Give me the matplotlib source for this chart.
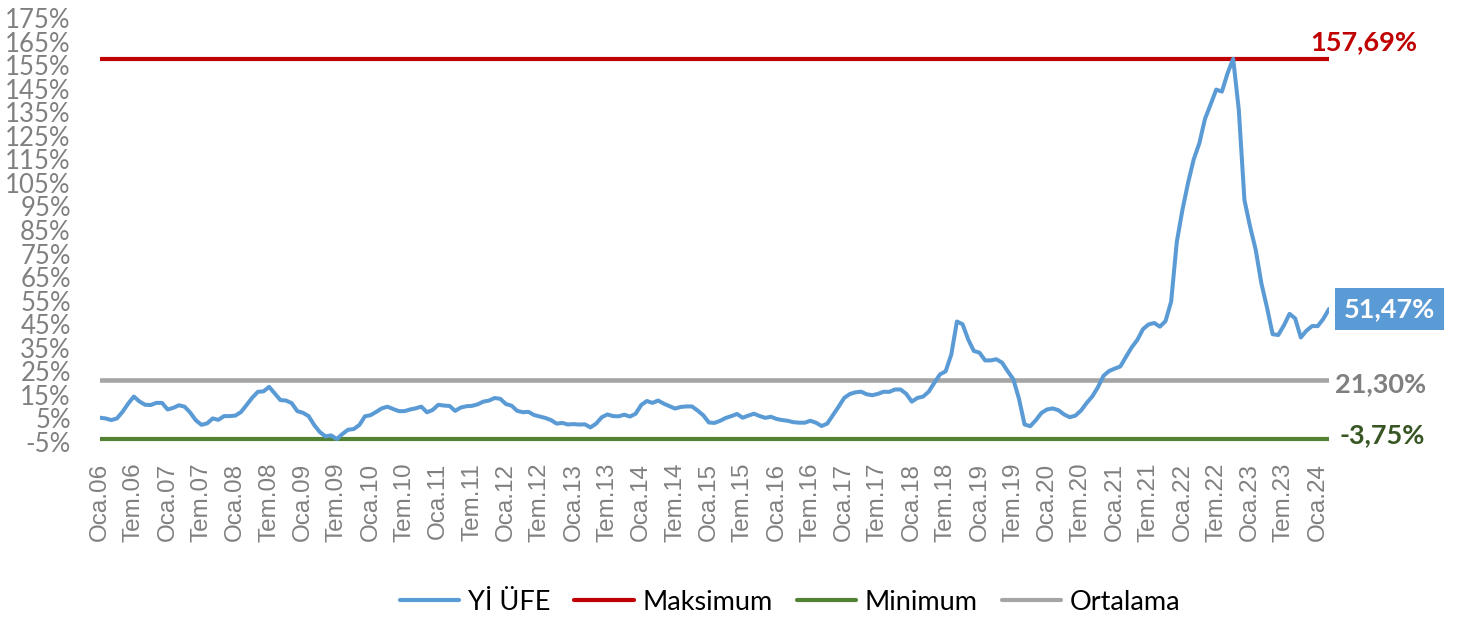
import matplotlib
matplotlib.use("Agg")
import matplotlib.pyplot as plt
import numpy as np

# ---- data (annual Yİ-ÜFE change, %, monthly Jan 2006 - Mar 2024) ----
y2006 = [5.3, 5.0, 4.3, 5.0, 7.8, 11.3, 14.3, 12.2, 10.8, 10.7, 11.6, 11.6]
y2007 = [8.8, 9.5, 10.6, 10.0, 7.5, 4.2, 2.3, 2.9, 5.0, 4.4, 6.0, 6.0]
y2008 = [6.2, 7.7, 10.7, 13.8, 16.3, 16.5, 18.4, 15.6, 12.8, 12.6, 11.5, 8.1]
y2009 = [7.4, 6.0, 2.2, -0.8, -2.6, -2.2, -3.75, -1.6, 0.2, 0.5, 2.2, 5.9]
y2010 = [6.4, 7.8, 9.3, 10.0, 9.0, 8.1, 8.1, 8.8, 9.3, 10.0, 7.6, 8.6]
y2011 = [10.80, 10.47, 10.31, 8.21, 9.63, 10.19, 10.35, 11.00, 12.15, 12.58, 13.67, 13.33]
y2012 = [11.13, 10.43, 8.22, 7.65, 7.8, 6.44, 5.8, 5.2, 4.3, 2.8, 3.1, 2.45]
y2013 = [2.6, 2.4, 2.5, 1.2, 2.8, 5.5, 6.7, 6.0, 5.9, 6.6, 5.8, 6.97]
y2014 = [10.72, 12.40, 11.6, 12.6, 11.28, 10.25, 9.2, 9.88, 10.10, 10.10, 8.36, 6.36]
y2015 = [3.28, 3.10, 4.0, 5.21, 6.0, 6.9, 5.3, 6.21, 7.0, 6.03, 5.25, 5.71]
y2016 = [4.8, 4.3, 4.0, 3.4, 3.2, 3.2, 4.0, 3.2, 1.78, 2.82, 6.41, 9.94]
y2017 = [13.69, 15.36, 16.09, 16.37, 15.26, 14.87, 15.45, 16.34, 16.28, 17.28, 17.30, 15.47]
y2018 = [12.14, 13.71, 14.28, 16.37, 20.16, 23.71, 25.00, 32.13, 46.15, 45.01, 38.54, 33.64]
y2019 = [32.93, 29.64, 29.64, 30.12, 28.71, 25.04, 21.66, 13.45, 2.45, 1.70, 4.26, 7.36]
y2020 = [8.84, 9.26, 8.50, 6.71, 5.53, 6.17, 8.33, 11.53, 14.33, 18.20, 23.11, 25.15]
y2021 = [26.16, 27.09, 31.20, 35.17, 38.33, 42.89, 44.92, 45.52, 43.96, 46.31, 54.62, 79.89]
y2022 = [93.53, 105.01, 114.97, 121.82, 132.16, 138.31, 144.61, 143.75, 151.50, 157.69, 136.02, 97.72]
y2023 = [86.46, 76.61, 62.43, 52.11, 40.76, 40.42, 44.50, 49.41, 47.44, 39.39, 42.25, 44.22]
y2024 = [44.20, 47.29, 51.47]

yi_ufe = (y2006 + y2007 + y2008 + y2009 + y2010 + y2011 + y2012 + y2013 + y2014
          + y2015 + y2016 + y2017 + y2018 + y2019 + y2020 + y2021 + y2022 + y2023 + y2024)

maks_value = 157.69
min_value = -3.75
ort_value = 21.30

years = list(range(2006, 2025))
tick_labels = []
for yr in years:
    tick_labels.append(f"Oca.{yr % 100:02d}")
    if yr < 2024:
        tick_labels.append(f"Tem.{yr % 100:02d}")

series_names = ["Yİ ÜFE", "Maksimum", "Minimum", "Ortalama"]
label_max = "157,69%"
label_last = "51,47%"
label_ort = "21,30%"
label_min = "-3,75%"

y_ticks = list(range(-5, 176, 10))

# ---- figure ----
W, H = 1468, 619
fig = plt.figure(figsize=(W / 100, H / 100), dpi=100)
ax = fig.add_axes([100 / W, 1 - 442 / H, (1329 - 100) / W, (442 - 18) / H])

n = len(yi_ufe)
x = np.arange(n)
blue = "#5B9BD5"
red = "#C00000"
green = "#548235"
grey = "#A5A5A5"

l_max, = ax.plot(x, [maks_value] * n, color=red, lw=3.0, solid_capstyle="round")
l_min, = ax.plot(x, [min_value] * n, color=green, lw=3.0, solid_capstyle="round")
l_ort, = ax.plot(x, [ort_value] * n, color=grey, lw=3.3, solid_capstyle="round")
l_yi, = ax.plot(x, yi_ufe, color=blue, lw=2.9, solid_capstyle="round", solid_joinstyle="round")

ax.set_xlim(0, n - 1)
ax.set_ylim(-5, 175)
for s in ax.spines.values():
    s.set_visible(False)

ax.set_yticks(y_ticks)
ax.set_yticklabels([f"{v}%" for v in y_ticks], fontfamily="Lato", fontsize=18.5, color="#808080")
ax.tick_params(axis="y", length=0, pad=21)

ax.set_xticks(np.arange(0, n, 6))
ax.set_xticklabels(tick_labels, rotation=90, fontfamily="Liberation Sans",
                   fontsize=17.5, color="#808080", va="top", ha="center")
ax.tick_params(axis="x", length=0, pad=15)

last = n - 1
lab_fs = 19.5
ax.annotate(label_max, xy=(last, maks_value), xytext=(-13.7, 12.2), textcoords="offset points",
            ha="left", va="center", fontfamily="Lato", fontweight="bold", fontsize=lab_fs, color=red)
ax.annotate(label_last, xy=(last, yi_ufe[-1]), xytext=(43.6, 0), textcoords="offset points",
            ha="center", va="center", fontfamily="Lato", fontweight="bold", fontsize=lab_fs, color="white",
            bbox=dict(boxstyle="square,pad=0.33", fc=blue, ec="none"))
ax.annotate(label_ort, xy=(last, ort_value), xytext=(4.3, -2.7), textcoords="offset points",
            ha="left", va="center", fontfamily="Lato", fontweight="bold", fontsize=lab_fs, color="#808080")
ax.annotate(label_min, xy=(last, min_value), xytext=(7.9, 2.9), textcoords="offset points",
            ha="left", va="center", fontfamily="Lato", fontweight="bold", fontsize=lab_fs, color="#375623")

leg = fig.legend([l_yi, l_max, l_min, l_ort], series_names, loc="center",
                 bbox_to_anchor=(790 / W, 1 - 602 / H), ncol=4, frameon=False,
                 prop={"family": "Lato", "size": 19.5}, handlelength=2.2,
                 handletextpad=0.3, columnspacing=0.9)
for h in leg.get_lines():
    h.set_linewidth(3.0)

fig.savefig("out.png", dpi=100)
